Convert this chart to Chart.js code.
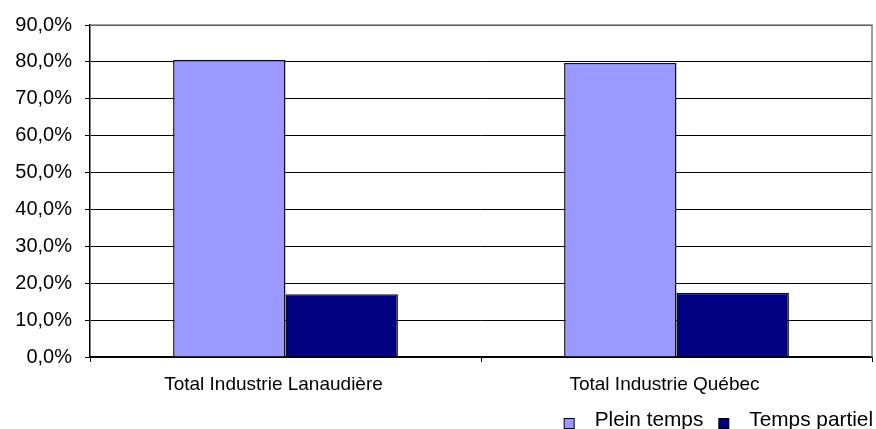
<!DOCTYPE html>
<html><head><meta charset="utf-8">
<script src="https://cdn.jsdelivr.net/npm/chart.js@4/dist/chart.umd.min.js"></script>
<style>html,body{margin:0;padding:0;background:#fff}#wrap{width:876px;height:429px;position:relative}</style>
</head><body><div id="wrap"><canvas id="c" width="876" height="429"></canvas></div>
<script>
const categories = ["Total Industrie Lanaudière", "Total Industrie Québec"];
const pleinTemps = [80.6, 79.7];
const tempsPartiel = [17.0, 17.4];
const seriesNames = ["Plein temps", "Temps partiel"];
const yTicks = [0,10,20,30,40,50,60,70,80,90];

const fmt = v => v.toFixed(1).replace('.', ',') + '%';
const FONT = "'Liberation Sans', Arial, sans-serif";

const frame = {
  id: 'frame',
  afterDraw(chart){
    const {ctx, chartArea:a} = chart;
    ctx.save();
    ctx.strokeStyle = '#808080';
    ctx.lineWidth = 1.5;
    ctx.beginPath();
    ctx.moveTo(a.left, a.top); ctx.lineTo(a.right, a.top); ctx.lineTo(a.right, a.bottom);
    ctx.stroke();
    // legend, drawn right-aligned at the bottom
    ctx.font = '20.8px ' + FONT;
    ctx.textBaseline = 'alphabetic';
    const baseline = 426, box = 10, gapBoxText = 21, gapItems = 15;
    const items = chart.data.datasets.map(d => ({text: d.label, color: d.backgroundColor}));
    const widths = items.map(it => ctx.measureText(it.text).width);
    let total = 0;
    items.forEach((it, i) => { total += box + gapBoxText + widths[i]; if (i) total += gapItems; });
    let x = 873 - total;
    items.forEach((it, i) => {
      ctx.fillStyle = it.color;
      ctx.fillRect(x + 0.5, baseline - 8 + 0.5, box, box);
      ctx.strokeStyle = '#000';
      ctx.lineWidth = 1;
      ctx.strokeRect(x + 0.5, baseline - 8 + 0.5, box, box);
      x += box + gapBoxText;
      ctx.fillStyle = '#000';
      ctx.fillText(it.text, x, baseline);
      x += widths[i] + gapItems;
    });
    ctx.restore();
  }
};

new Chart(document.getElementById('c'), {
  type: 'bar',
  data: {
    labels: categories,
    datasets: [
      {label: seriesNames[0], data: pleinTemps, backgroundColor: '#9999ff', borderColor: '#111', borderWidth: 1.5, categoryPercentage: 0.575, barPercentage: 1},
      {label: seriesNames[1], data: tempsPartiel, backgroundColor: '#000080', borderColor: '#111', borderWidth: 1.5, categoryPercentage: 0.575, barPercentage: 1}
    ]
  },
  options: {
    responsive: false,
    animation: false,
    layout: {padding: {top: 15, right: 4, left: 0, bottom: 0}},
    plugins: {
      tooltip: {enabled: false},
      legend: {display: false}
    },
    scales: {
      x: {
        grid: {display: true, drawOnChartArea: false, offset: true, color: '#000', tickLength: 5},
        border: {color: '#000', width: 1.5},
        ticks: {color: '#000', font: {family: FONT, size: 19}, padding: 11, labelOffset: -12},
        afterFit(s){ s.height = 72; }
      },
      y: {
        min: 0, max: 90,
        afterBuildTicks(s){ s.ticks = yTicks.map(v => ({value: v})); },
        grid: {color: '#000', tickLength: 5, drawTicks: true},
        border: {color: '#000', width: 1.5},
        ticks: {color: '#000', font: {family: FONT, size: 20}, padding: 13, callback: v => fmt(v)},
        afterFit(s){ s.width = 90; }
      }
    }
  },
  plugins: [frame]
});
</script></body></html>
